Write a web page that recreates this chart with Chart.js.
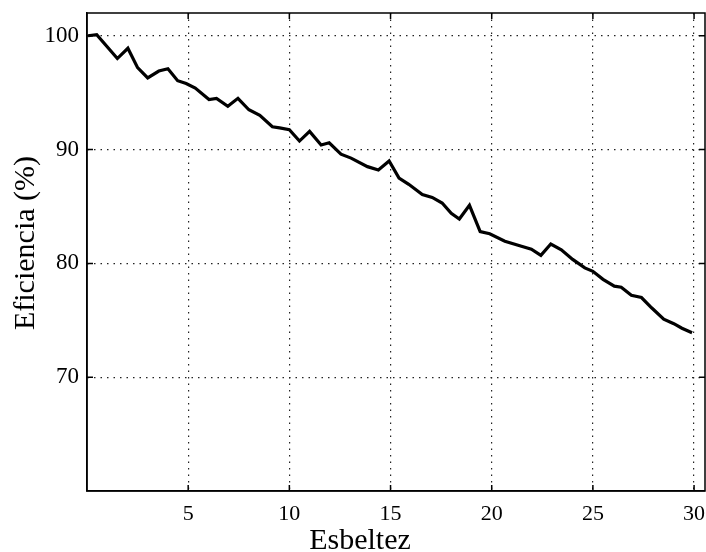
<!DOCTYPE html>
<html>
<head>
<meta charset="utf-8">
<script src="https://cdn.jsdelivr.net/npm/chart.js@4/dist/chart.umd.min.js"></script>
<style>
  html, body { margin: 0; padding: 0; background: #fff; }
  #wrap { width: 706px; height: 552px; }
</style>
</head>
<body>
<div id="wrap"><canvas id="lineChart" width="706" height="552"></canvas></div>
<script>
// esbeltez (x) y eficiencia en % (y)
const esbeltez = [0.05, 0.48, 1.5, 2.02, 2.5, 3.0, 3.55, 4.0, 4.48, 4.9, 5.35, 6.03, 6.4, 6.96, 7.46,
  8.0, 8.54, 9.16, 9.52, 10.0, 10.5, 11.0, 11.57, 11.97, 12.55, 13.05, 13.86, 14.4, 14.93,
  15.42, 15.9, 16.57, 17.06, 17.55, 18.0, 18.4, 18.9, 19.43, 19.9, 20.65, 21.47, 21.96,
  22.43, 22.92, 23.44, 24.0, 24.6, 25.0, 25.5, 26.06, 26.4, 26.9, 27.4, 27.9, 28.5, 29.0,
  29.4, 29.9];
const eficiencia = [100.0, 100.1, 98.0, 98.9, 97.2, 96.3, 96.9, 97.1, 96.05, 95.8, 95.4, 94.4, 94.5, 93.8, 94.5,
  93.5, 93.0, 92.0, 91.9, 91.75, 90.75, 91.6, 90.4, 90.6, 89.6, 89.25, 88.5, 88.2, 89.0,
  87.5, 86.95, 86.05, 85.8, 85.3, 84.4, 83.9, 85.1, 82.8, 82.6, 81.95, 81.5, 81.25,
  80.7, 81.7, 81.2, 80.35, 79.6, 79.3, 78.6, 78.0, 77.9, 77.2, 77.0, 76.1, 75.1, 74.7,
  74.3, 73.9];
const xTicks = [5, 10, 15, 20, 25, 30];
const yTicks = [70, 80, 90, 100];
const xTitle = "Esbeltez";
const yTitle = "Eficiencia (%)";

const serif = "'Liberation Serif', 'DejaVu Serif', serif";

// marco completo, marcas hacia dentro y titulos de los ejes
const framePlugin = {
  id: "frame",
  afterDraw(chart) {
    const ctx = chart.ctx;
    const a = chart.chartArea;
    const xs = chart.scales.x, ys = chart.scales.y;
    ctx.save();
    ctx.strokeStyle = "#000";
    ctx.lineWidth = 1.5;
    ctx.strokeRect(a.left, a.top, a.right - a.left, a.bottom - a.top);
    ctx.beginPath();
    yTicks.forEach(v => {
      const py = ys.getPixelForValue(v);
      ctx.moveTo(a.left, py); ctx.lineTo(a.left + 6, py);
      ctx.moveTo(a.right, py); ctx.lineTo(a.right - 6, py);
    });
    xTicks.forEach(v => {
      const px = xs.getPixelForValue(v);
      ctx.moveTo(px, a.bottom); ctx.lineTo(px, a.bottom - 6);
      ctx.moveTo(px, a.top); ctx.lineTo(px, a.top + 6);
    });
    ctx.stroke();

    ctx.fillStyle = "#000";
    ctx.font = "30px " + serif;
    ctx.textAlign = "center";
    ctx.textBaseline = "alphabetic";
    ctx.fillText(xTitle, 360, 549);

    ctx.translate(26, 243);
    ctx.rotate(-Math.PI / 2);
    ctx.textBaseline = "middle";
    ctx.fillText(yTitle, 0, 0);
    ctx.restore();
  }
};

new Chart(document.getElementById("lineChart"), {
  type: "line",
  data: {
    datasets: [{
      label: "Eficiencia",
      data: esbeltez.map((x, i) => ({ x: x, y: eficiencia[i] })),
      borderColor: "#000",
      borderWidth: 3.2,
      pointRadius: 0,
      tension: 0,
      fill: false
    }]
  },
  options: {
    responsive: false,
    animation: false,
    layout: { padding: { top: 13, right: 1, left: 0, bottom: 0 } },
    plugins: { legend: { display: false }, tooltip: { enabled: false } },
    scales: {
      x: {
        type: "linear",
        min: 0,
        max: 30.54,
        afterBuildTicks: s => { s.ticks = xTicks.map(v => ({ value: v })); },
        afterFit: s => { s.height = 61; s.paddingLeft = 0; s.paddingRight = 0; },
        grid: { color: "#222", lineWidth: 1.2, drawTicks: false },
        border: { display: true, color: "#000", width: 1.5, dash: [1.5, 5] },
        ticks: { color: "#000", padding: 10, maxRotation: 0, font: { family: serif, size: 22 } },
        title: { display: false }
      },
      y: {
        min: 60,
        max: 102,
        afterBuildTicks: s => { s.ticks = yTicks.map(v => ({ value: v })); },
        afterFit: s => { s.width = 87; s.paddingTop = 0; s.paddingBottom = 0; },
        grid: { color: "#222", lineWidth: 1.2, drawTicks: false },
        border: { display: true, color: "#000", width: 1.5, dash: [1.5, 5] },
        ticks: { color: "#000", padding: 8, font: { family: serif, size: 23 } },
        title: { display: false }
      }
    }
  },
  plugins: [framePlugin]
});
</script>
</body>
</html>
